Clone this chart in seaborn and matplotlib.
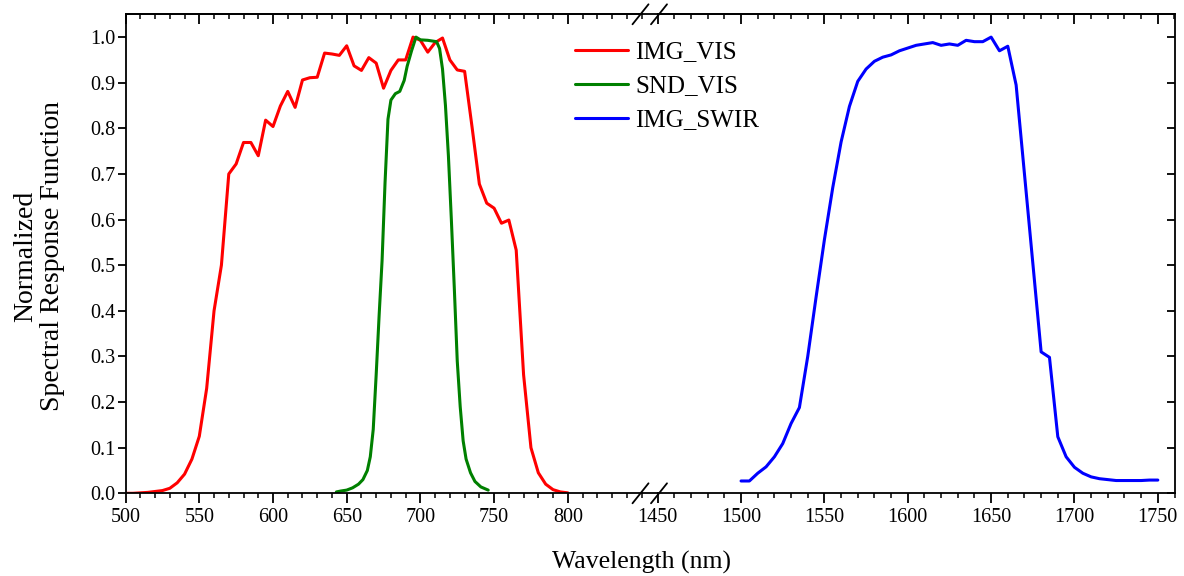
import numpy as np
import pandas as pd
import matplotlib
matplotlib.use("Agg")
import matplotlib.pyplot as plt
from matplotlib.lines import Line2D
from matplotlib.ticker import MultipleLocator, FixedLocator, FormatStrFormatter
import seaborn as sns

# ---------------- data ----------------
img_vis_nm = [500, 505, 510, 515, 520, 525, 530, 535, 540, 545, 550, 555, 560, 565, 570,
              575, 580, 585, 590, 595, 600, 605, 610, 615, 620, 625, 630, 635, 640, 645,
              650, 655, 660, 665, 670, 675, 680, 685, 690, 695, 700, 705, 710, 715, 720,
              725, 730, 735, 740, 745, 750, 755, 760, 765, 770, 775, 780, 785, 790, 795, 800]
img_vis_val = [0.0, 0.0, 0.001, 0.002, 0.004, 0.006, 0.011, 0.023, 0.042, 0.075, 0.125, 0.23,
               0.40, 0.50, 0.70, 0.722, 0.769, 0.769, 0.740, 0.818, 0.804, 0.849, 0.881, 0.846,
               0.906, 0.911, 0.912, 0.965, 0.963, 0.960, 0.981, 0.937, 0.927, 0.955, 0.943,
               0.888, 0.927, 0.950, 0.950, 1.0, 0.993, 0.967, 0.988, 0.998, 0.950, 0.928,
               0.925, 0.804, 0.678, 0.636, 0.625, 0.592, 0.599, 0.533, 0.26, 0.10, 0.045,
               0.02, 0.008, 0.003, 0.001]

snd_vis_nm = [643, 646, 650, 654, 658, 661, 664, 666, 668, 670, 672, 674, 676, 678, 680,
              683, 686, 689, 691, 694, 697, 700, 705, 711, 713, 715, 717, 719, 721, 723,
              725, 727, 729, 731, 734, 737, 741, 746]
snd_vis_val = [0.003, 0.005, 0.007, 0.012, 0.02, 0.03, 0.05, 0.08, 0.14, 0.26, 0.39, 0.51,
               0.68, 0.82, 0.862, 0.876, 0.881, 0.905, 0.936, 0.97, 1.0, 0.994, 0.993, 0.99,
               0.975, 0.93, 0.85, 0.74, 0.60, 0.45, 0.29, 0.19, 0.115, 0.075, 0.045, 0.026,
               0.014, 0.007]

img_swir_nm = [1500, 1505, 1510, 1515, 1520, 1525, 1530, 1535, 1540, 1545, 1550, 1555, 1560,
               1565, 1570, 1575, 1580, 1585, 1590, 1595, 1600, 1605, 1610, 1615, 1620, 1625,
               1630, 1635, 1640, 1645, 1650, 1655, 1660, 1665, 1670, 1675, 1680, 1685, 1690,
               1695, 1700, 1705, 1710, 1715, 1720, 1725, 1730, 1735, 1740, 1745, 1750]
img_swir_val = [0.027, 0.027, 0.044, 0.058, 0.080, 0.109, 0.153, 0.188, 0.30, 0.43, 0.556,
                0.67, 0.77, 0.848, 0.903, 0.930, 0.947, 0.956, 0.961, 0.970, 0.976, 0.982,
                0.985, 0.988, 0.982, 0.985, 0.982, 0.993, 0.990, 0.990, 1.0, 0.970, 0.980,
                0.895, 0.70, 0.505, 0.31, 0.298, 0.124, 0.08, 0.057, 0.044, 0.036, 0.032,
                0.030, 0.028, 0.028, 0.028, 0.028, 0.029, 0.029]

series_names = ["IMG_VIS", "SND_VIS", "IMG_SWIR"]
series_colors = ["#FF0000", "#008000", "#0000FF"]

left_ticks = [500, 550, 600, 650, 700, 750, 800]
right_ticks = [1450, 1500, 1550, 1600, 1650, 1700, 1750]
y_ticks = [0.0, 0.1, 0.2, 0.3, 0.4, 0.5, 0.6, 0.7, 0.8, 0.9, 1.0]

# ---------------- style ----------------
sns.set_style("ticks")
plt.rcParams['font.family'] = ['Liberation Serif', 'DejaVu Serif']
plt.rcParams['axes.linewidth'] = 1.3
plt.rcParams['axes.edgecolor'] = 'black'
plt.rcParams['xtick.color'] = 'black'
plt.rcParams['ytick.color'] = 'black'
plt.rcParams['xtick.labelcolor'] = 'black'
plt.rcParams['ytick.labelcolor'] = 'black'
plt.rcParams['text.color'] = 'black'
plt.rcParams['axes.labelcolor'] = 'black'

W, H = 1184, 576
fig = plt.figure(figsize=(W / 100, H / 100), dpi=100)

def fx(px):
    return px / W

def fy(py):
    return 1 - py / H

y_top_px, y_bot_px = 14.3, 493.3
lx0, lx1 = 125.6, 641.5
rx0, rx1 = 657.7, 1174.5

axL = fig.add_axes([fx(lx0), fy(y_bot_px), fx(lx1) - fx(lx0), fy(y_top_px) - fy(y_bot_px)])
axR = fig.add_axes([fx(rx0), fy(y_bot_px), fx(rx1) - fx(rx0), fy(y_top_px) - fy(y_bot_px)])

lw = 2.2
df_vis = pd.DataFrame({"nm": img_vis_nm, "val": img_vis_val})
df_snd = pd.DataFrame({"nm": snd_vis_nm, "val": snd_vis_val})
df_swir = pd.DataFrame({"nm": img_swir_nm, "val": img_swir_val})

sns.lineplot(data=df_vis, x="nm", y="val", ax=axL, color=series_colors[0], lw=lw,
             estimator=None, sort=False, label=series_names[0])
sns.lineplot(data=df_snd, x="nm", y="val", ax=axL, color=series_colors[1], lw=lw,
             estimator=None, sort=False, label=series_names[1])
sns.lineplot(data=df_swir, x="nm", y="val", ax=axR, color=series_colors[2], lw=lw,
             estimator=None, sort=False, label=series_names[2])

hL, lL = axL.get_legend_handles_labels()
hR, lR = axR.get_legend_handles_labels()
axL.get_legend().remove()
axR.get_legend().remove()

tick_fs = 14.5
for ax, (x0, x1), ticks in [(axL, (500, 850), left_ticks), (axR, (1450, 1760), right_ticks)]:
    ax.set_xlim(x0, x1)
    ax.set_ylim(0, 1.05)
    ax.set_xlabel("")
    ax.set_ylabel("")
    ax.xaxis.set_major_locator(FixedLocator(ticks))
    ax.xaxis.set_minor_locator(MultipleLocator(10))
    ax.tick_params(axis='x', which='major', direction='out', length=7.2, width=1.3,
                   labelsize=tick_fs, pad=3.5)
    ax.tick_params(axis='x', which='minor', direction='out', length=3.6, width=1.1)
    sec = ax.secondary_xaxis('top')
    sec.xaxis.set_major_locator(FixedLocator(ticks))
    sec.xaxis.set_minor_locator(MultipleLocator(10))
    sec.tick_params(axis='x', which='major', direction='in', length=7.2, width=1.3, labeltop=False)
    sec.tick_params(axis='x', which='minor', direction='in', length=3.6, width=1.1)
    sec.spines['top'].set_linewidth(1.3)

axL.spines['right'].set_visible(False)
axR.spines['left'].set_visible(False)
axL.yaxis.set_major_locator(FixedLocator(y_ticks))
axL.yaxis.set_major_formatter(FormatStrFormatter('%.1f'))
axL.tick_params(axis='y', which='major', direction='out', length=5.5, width=1.3,
                labelsize=tick_fs, pad=2, left=True, right=False)
axR.yaxis.set_major_locator(FixedLocator(y_ticks))
axR.yaxis.tick_right()
axR.tick_params(axis='y', which='major', direction='in', length=6, width=1.3,
                labelright=False, labelleft=False, left=False, right=True)

# axis line across the break and break marks
for ypx in (y_top_px, y_bot_px):
    fig.add_artist(Line2D([fx(lx1), fx(rx0)], [fy(ypx), fy(ypx)], color='black', lw=1.3,
                          transform=fig.transFigure))
    for cx in (640.5, 659.0):
        fig.add_artist(Line2D([fx(cx - 8), fx(cx + 8)], [fy(ypx + 10), fy(ypx - 10)],
                              color='black', lw=1.3, transform=fig.transFigure))

# labels
fig.text(fx(642), fy(568.3), "Wavelength (nm)", ha='center', va='baseline', fontsize=18.5,
         color='black')
fig.text(fx(39), fy(256), "Normalized\nSpectral Response Function", rotation=90,
         ha='center', va='center', multialignment='center', fontsize=20, linespacing=1.1,
         color='black')

fig.legend(hL + hR, lL + lR, loc='upper left', bbox_to_anchor=(fx(575), fy(41)),
           bbox_transform=fig.transFigure, frameon=False, fontsize=18,
           handlelength=2.12, handletextpad=0.28, labelspacing=0.46,
           borderpad=0, borderaxespad=0, labelcolor='black')

fig.savefig("out.png", dpi=100)
